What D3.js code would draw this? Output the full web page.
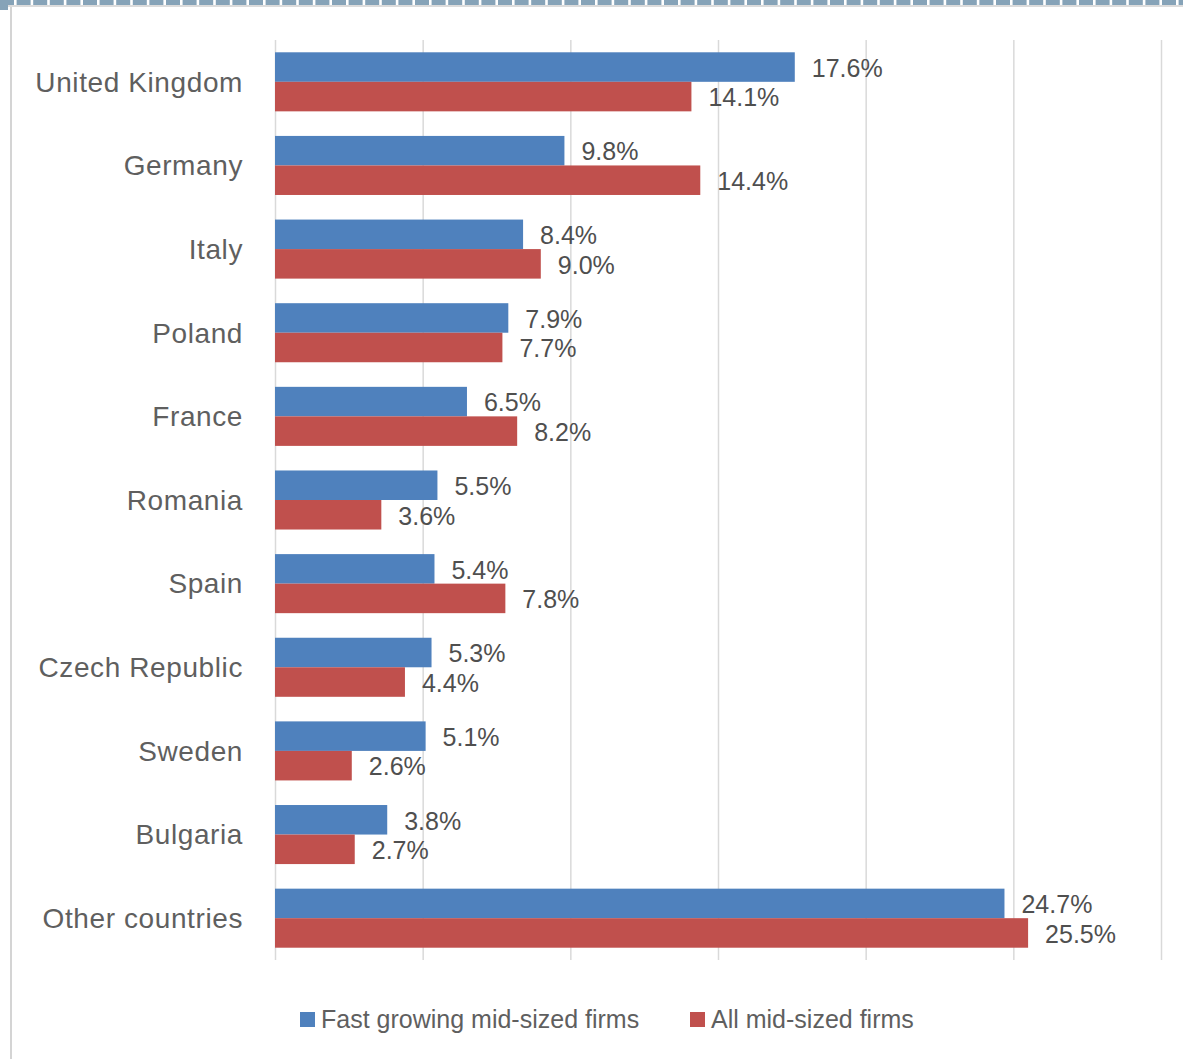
<!DOCTYPE html>
<html>
<head>
<meta charset="utf-8">
<script src="https://cdn.jsdelivr.net/npm/d3@7"></script>
<style>
  html, body { margin: 0; padding: 0; background: #fff; }
  svg { display: block; }
</style>
</head>
<body>
<script>
// Share of mid-sized firms by country
const countries = ["United Kingdom", "Germany", "Italy", "Poland", "France", "Romania",
                   "Spain", "Czech Republic", "Sweden", "Bulgaria", "Other countries"];
const fastGrowing = [17.6, 9.8, 8.4, 7.9, 6.5, 5.5, 5.4, 5.3, 5.1, 3.8, 24.7];
const allFirms    = [14.1, 14.4, 9.0, 7.7, 8.2, 3.6, 7.8, 4.4, 2.6, 2.7, 25.5];
const seriesNames = ["Fast growing mid-sized firms", "All mid-sized firms"];
const xTicks = [0, 5, 10, 15, 20, 25, 30];

const W = 1183, H = 1059;
const colors = ["#4f81bd", "#c0504d"];
const series = [fastGrowing, allFirms];

const svg = d3.select("body").append("svg").attr("width", W).attr("height", H);

// frame: dashed top edge, corner block, left rule
svg.append("line").attr("x1", 0).attr("x2", W).attr("y1", 6).attr("y2", 6)
  .attr("stroke", "#dcdcdc").attr("stroke-width", 2);
svg.append("line").attr("x1", 0).attr("x2", W).attr("y1", 2.5).attr("y2", 2.5)
  .attr("stroke", "#86a3b8").attr("stroke-width", 5).attr("stroke-dasharray", "14 2.6");
svg.append("rect").attr("x", 0).attr("y", 0).attr("width", 8).attr("height", 10).attr("fill", "#86a3b8");
svg.append("line").attr("x1", 11).attr("x2", 11).attr("y1", 7).attr("y2", H)
  .attr("stroke", "#d4d4d4").attr("stroke-width", 2);

const x = d3.scaleLinear().domain([0, 30]).range([275, 1161]);
const y = d3.scaleBand().domain(countries).range([40, 960]).paddingInner(0.294).paddingOuter(0.147);
const sub = d3.scaleBand().domain([0, 1]).range([0, y.bandwidth()]);

// vertical gridlines
svg.append("g").selectAll("line").data(xTicks).join("line")
  .attr("x1", d => x(d) + 0.5).attr("x2", d => x(d) + 0.5)
  .attr("y1", 40).attr("y2", 960)
  .attr("stroke", "#d9d9d9").attr("stroke-width", 1.5);

// bars and value labels
series.forEach((vals, si) => {
  const g = svg.append("g");
  g.selectAll("rect").data(vals).join("rect")
    .attr("x", x(0))
    .attr("y", (d, i) => y(countries[i]) + sub(si))
    .attr("width", d => x(d) - x(0))
    .attr("height", sub.bandwidth())
    .attr("fill", colors[si]);
  g.selectAll("text").data(vals).join("text")
    .attr("x", d => x(d) + 17)
    .attr("y", (d, i) => y(countries[i]) + sub(si) + sub.bandwidth() / 2 + 1)
    .attr("dy", "0.35em")
    .attr("font-family", "Liberation Sans, Arial, sans-serif")
    .attr("font-size", 25)
    .attr("fill", "#4f4f4f")
    .text(d => d.toFixed(1) + "%");
});

// category labels
svg.append("g").selectAll("text").data(countries).join("text")
  .attr("x", 243)
  .attr("y", d => y(d) + y.bandwidth() / 2)
  .attr("dy", "0.35em")
  .attr("text-anchor", "end")
  .attr("font-family", "Liberation Sans, Arial, sans-serif")
  .attr("font-size", 28)
  .attr("letter-spacing", 0.6)
  .attr("fill", "#5f5f5f")
  .text(d => d);

// legend
const legendX = [300, 690];
const lg = svg.append("g");
seriesNames.forEach((name, i) => {
  lg.append("rect").attr("x", legendX[i]).attr("y", 1012).attr("width", 15).attr("height", 15)
    .attr("fill", colors[i]);
  lg.append("text").attr("x", legendX[i] + 21).attr("y", 1019.5).attr("dy", "0.35em")
    .attr("font-family", "Liberation Sans, Arial, sans-serif")
    .attr("font-size", 25)
    .attr("fill", "#5f5f5f")
    .text(name);
});
</script>
</body>
</html>
